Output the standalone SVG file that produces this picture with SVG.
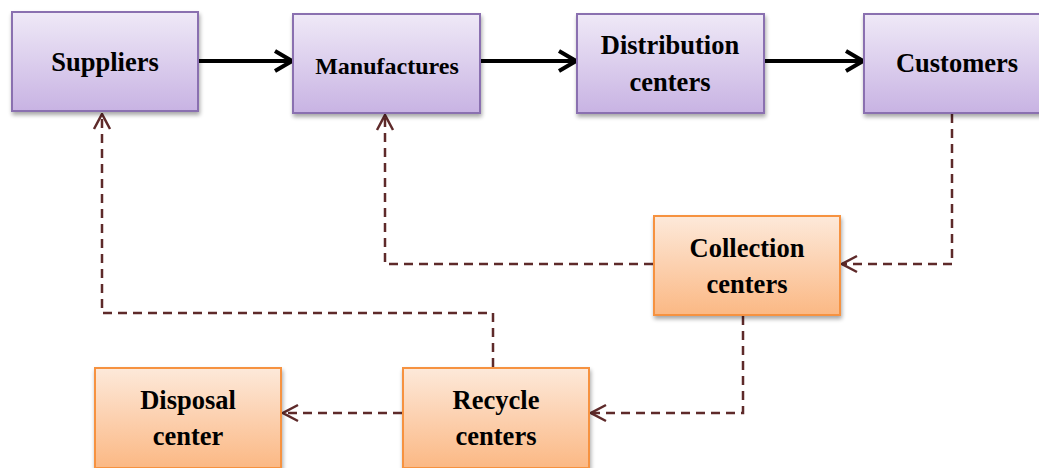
<svg xmlns="http://www.w3.org/2000/svg" width="1039" height="468" viewBox="0 0 1039 468">
  <defs>
    <linearGradient id="gPurple" x1="0" y1="0" x2="0" y2="1">
      <stop offset="0" stop-color="#efe9f7"/>
      <stop offset="1" stop-color="#c8b3e3"/>
    </linearGradient>
    <linearGradient id="gOrange" x1="0" y1="0" x2="0" y2="1">
      <stop offset="0" stop-color="#fde9da"/>
      <stop offset="1" stop-color="#fbb884"/>
    </linearGradient>
    <filter id="shadow" x="-10%" y="-10%" width="130%" height="130%">
      <feGaussianBlur in="SourceAlpha" stdDeviation="2"/>
      <feOffset dx="1" dy="3"/>
      <feComponentTransfer><feFuncA type="linear" slope="0.35"/></feComponentTransfer>
      <feMerge><feMergeNode/><feMergeNode in="SourceGraphic"/></feMerge>
    </filter>
    <marker id="arrowSolid" viewBox="0 0 22 24" refX="20" refY="12" markerWidth="22" markerHeight="24" markerUnits="userSpaceOnUse" orient="auto">
      <path d="M3,2 L20,12 L3,22" fill="none" stroke="#000" stroke-width="4"/>
    </marker>
    <marker id="arrowDash" viewBox="0 0 18 20" refX="17" refY="10" markerWidth="18" markerHeight="20" markerUnits="userSpaceOnUse" orient="auto">
      <path d="M2,2 L17,10 L2,18" fill="none" stroke="#5e2a2a" stroke-width="2.5"/>
    </marker>
  </defs>
  <style>
    .purple { fill: url(#gPurple); stroke: #8a6fb0; stroke-width: 2; }
    .orange { fill: url(#gOrange); stroke: #f6923f; stroke-width: 2; }
    .label { font-family: "Liberation Serif", "Times New Roman", serif; font-weight: bold; font-size: 26.5px; fill: #000; text-anchor: middle; }
    .flow { fill: none; stroke: #000; stroke-width: 4; marker-end: url(#arrowSolid); }
    .back { fill: none; stroke: #5e2a2a; stroke-width: 2.5; stroke-dasharray: 9 6; marker-end: url(#arrowDash); }
  </style>

  <g id="connectors">
    <line class="flow" x1="199" y1="61" x2="292" y2="61"/>
    <line class="flow" x1="481" y1="61" x2="576" y2="61"/>
    <line class="flow" x1="765" y1="61" x2="863" y2="61"/>
    <path class="back" d="M952,114 V264 H842"/>
    <path class="back" d="M653,264 H385 V115"/>
    <path class="back" d="M743,316 V413 H591"/>
    <path class="back" d="M493,367 V313 H102 V114"/>
    <path class="back" d="M402,413 H283"/>
  </g>

  <g id="suppliers">
    <rect class="purple" x="12" y="12" width="186" height="99" filter="url(#shadow)"/>
    <text class="label" x="105" y="71">Suppliers</text>
  </g>
  <g id="manufactures">
    <rect class="purple" x="293" y="14" width="187" height="99" filter="url(#shadow)"/>
    <text class="label" x="387" y="74" style="font-size:24px">Manufactures</text>
  </g>
  <g id="distribution-centers">
    <rect class="purple" x="577" y="14" width="187" height="99" filter="url(#shadow)"/>
    <text class="label" x="670" y="54">Distribution</text>
    <text class="label" x="670" y="91">centers</text>
  </g>
  <g id="customers">
    <rect class="purple" x="864" y="14" width="187" height="99" filter="url(#shadow)"/>
    <text class="label" x="957" y="72">Customers</text>
  </g>
  <g id="collection-centers">
    <rect class="orange" x="654" y="216" width="186" height="99" filter="url(#shadow)"/>
    <text class="label" x="747" y="257">Collection</text>
    <text class="label" x="747" y="293">centers</text>
  </g>
  <g id="recycle-centers">
    <rect class="orange" x="403" y="368" width="186" height="100" filter="url(#shadow)"/>
    <text class="label" x="496" y="409">Recycle</text>
    <text class="label" x="496" y="445">centers</text>
  </g>
  <g id="disposal-center">
    <rect class="orange" x="95" y="368" width="186" height="100" filter="url(#shadow)"/>
    <text class="label" x="188" y="409">Disposal</text>
    <text class="label" x="188" y="445">center</text>
  </g>
</svg>
